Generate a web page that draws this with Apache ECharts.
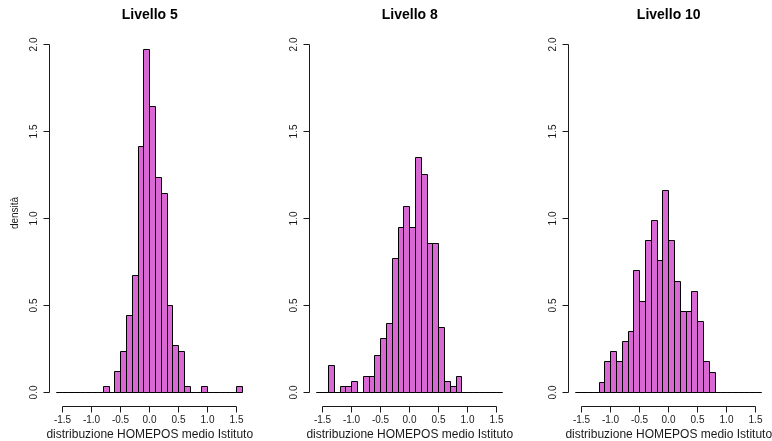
<!DOCTYPE html>
<html>
<head>
<meta charset="utf-8">
<script src="https://cdn.jsdelivr.net/npm/echarts@6/dist/echarts.min.js"></script>
<style>
  html, body { margin: 0; padding: 0; background: #fff; }
  #chart { width: 772px; height: 441px; }
</style>
</head>
<body>
<div id="chart"></div>
<script>
// bin left edges (width 0.1)
const binLeft = [-1.6, -1.5, -1.4, -1.3, -1.2, -1.1, -1.0, -0.9, -0.8, -0.7, -0.6, -0.5, -0.4, -0.3, -0.2, -0.1,
                 0.0, 0.1, 0.2, 0.3, 0.4, 0.5, 0.6, 0.7, 0.8, 0.9, 1.0, 1.1, 1.2, 1.3, 1.4, 1.5];
const binWidth = 0.1;

const panelTitles = ['Livello 5', 'Livello 8', 'Livello 10'];

// densita per bin
const densLivello5 = [0, 0, 0, 0, 0, 0, 0, 0, 0.031, 0, 0.119, 0.236, 0.444, 0.674, 1.414, 1.971,
                      1.646, 1.235, 1.145, 0.501, 0.267, 0.234, 0.031, 0, 0, 0.031, 0, 0, 0, 0, 0, 0.031];
const densLivello8 = [0, 0, 0.156, 0, 0.031, 0.031, 0.061, 0, 0.092, 0.092, 0.213, 0.307, 0.396, 0.768, 0.951, 1.072,
                      0.951, 1.349, 1.255, 0.857, 0.857, 0.371, 0.061, 0.031, 0.092, 0, 0, 0, 0, 0, 0, 0];
const densLivello10 = [0, 0, 0, 0, 0.058, 0.177, 0.234, 0.177, 0.292, 0.350, 0.701, 0.523, 0.872, 0.988, 0.759, 1.160,
                       0.872, 0.638, 0.463, 0.463, 0.578, 0.405, 0.177, 0.115, 0, 0, 0, 0, 0, 0, 0, 0];

const xTicks = [-1.5, -1.0, -0.5, 0.0, 0.5, 1.0, 1.5];
const xTickLabels = ['-1.5', '-1.0', '-0.5', '0.0', '0.5', '1.0', '1.5'];
const yTicks = [0, 0.5, 1.0, 1.5, 2.0];
const yTickLabels = ['0.0', '0.5', '1.0', '1.5', '2.0'];

const xLabel = 'distribuzione HOMEPOS medio Istituto';
const yLabel = 'densità';

// R style plot region (range extended by 4%)
const xLo = -1.728, xHi = 1.728, yLo = -0.08, yHi = 2.08;

const FONT = '"Liberation Sans", Arial, sans-serif';
const barColor = '#D968D5';
const ink = '#1a1a1a';

let chart = echarts.init(document.getElementById('chart'));
let allDens = [densLivello5, densLivello8, densLivello10];
let gridLeft = [49.5, 309.5, 568.5];
let gridW = 200.5;

let grids = [], xAxes = [], yAxes = [], series = [], titles = [];

function crisp(v) {
    return Math.round(v - 0.5) + 0.5;
}

allDens.forEach((dens, k) => {
    grids.push({ left: gridLeft[k], top: 31, width: gridW, height: 375 });
    xAxes.push({ type: 'value', gridIndex: k, min: xLo, max: xHi, show: false });
    yAxes.push({ type: 'value', gridIndex: k, min: yLo, max: yHi, show: false });

    titles.push({
        text: panelTitles[k],
        left: gridLeft[k] + gridW / 2,
        top: 8,
        textAlign: 'center',
        padding: 0,
        textStyle: { fontFamily: FONT, fontSize: 14, fontWeight: 'bold', color: '#000' }
    });
    titles.push({
        text: xLabel,
        left: gridLeft[k] + gridW / 2,
        top: 429,
        textAlign: 'center',
        padding: 0,
        textStyle: { fontFamily: FONT, fontSize: 12, fontWeight: 'normal', color: ink }
    });

    // histogram bars
    series.push({
        type: 'custom',
        xAxisIndex: k,
        yAxisIndex: k,
        silent: true,
        data: binLeft.map((b, i) => [b, b + binWidth, dens[i]]),
        encode: { x: [0, 1], y: 2 },
        renderItem: function (params, api) {
            let p0 = api.coord([api.value(0), api.value(2)]);
            let p1 = api.coord([api.value(1), 0]);
            let x0 = crisp(p0[0]), x1 = crisp(p1[0]);
            let y0 = crisp(p0[1]), y1 = crisp(p1[1]);
            return {
                type: 'rect',
                shape: { x: x0, y: y0, width: x1 - x0, height: y1 - y0 },
                style: { fill: barColor, stroke: '#000', lineWidth: 1 }
            };
        }
    });

    // x axis (R style: line spans first to last tick)
    series.push({
        type: 'custom',
        xAxisIndex: k,
        yAxisIndex: k,
        silent: true,
        data: xTicks.map((v, i) => [v, i]),
        renderItem: function (params, api) {
            let p = api.coord([api.value(0), yLo]);
            let x = crisp(p[0]), y = crisp(p[1]);
            let children = [
                { type: 'line', shape: { x1: x, y1: y, x2: x, y2: y + 6 }, style: { stroke: ink, lineWidth: 1 } },
                { type: 'text', x: x, y: y + 14, style: {
                    text: xTickLabels[api.value(1)], fontFamily: FONT, fontSize: 10, fill: ink,
                    align: 'center', verticalAlign: 'middle' } }
            ];
            if (params.dataIndex === 0) {
                let a = api.coord([xTicks[0], yLo]);
                let b = api.coord([xTicks[xTicks.length - 1], yLo]);
                children.push({ type: 'line', shape: { x1: crisp(a[0]), y1: y, x2: crisp(b[0]), y2: y },
                    style: { stroke: ink, lineWidth: 1 } });
            }
            return { type: 'group', children: children };
        }
    });

    // y axis
    series.push({
        type: 'custom',
        xAxisIndex: k,
        yAxisIndex: k,
        silent: true,
        data: yTicks.map((v, i) => [v, i]),
        encode: { y: 0 },
        renderItem: function (params, api) {
            let p = api.coord([xLo, api.value(0)]);
            let x = crisp(p[0]), y = crisp(p[1]);
            let children = [
                { type: 'line', shape: { x1: x - 6, y1: y, x2: x, y2: y }, style: { stroke: ink, lineWidth: 1 } },
                { type: 'text', x: x - 15, y: y, rotation: Math.PI / 2, style: {
                    text: yTickLabels[api.value(1)], fontFamily: FONT, fontSize: 10, fill: ink,
                    align: 'center', verticalAlign: 'middle' } }
            ];
            if (params.dataIndex === 0) {
                let a = api.coord([xLo, yTicks[0]]);
                let b = api.coord([xLo, yTicks[yTicks.length - 1]]);
                children.push({ type: 'line', shape: { x1: x, y1: crisp(a[1]), x2: x, y2: crisp(b[1]) },
                    style: { stroke: ink, lineWidth: 1 } });
            }
            return { type: 'group', children: children };
        }
    });
});

let option = {
    animation: false,
    backgroundColor: '#fff',
    title: titles,
    grid: grids,
    xAxis: xAxes,
    yAxis: yAxes,
    graphic: [{
        type: 'text',
        x: 15,
        y: 213,
        rotation: Math.PI / 2,
        style: { text: yLabel, fontFamily: FONT, fontSize: 10, fill: ink, align: 'center', verticalAlign: 'middle' }
    }],
    series: series
};
chart.setOption(option, true);
</script>
</body>
</html>
